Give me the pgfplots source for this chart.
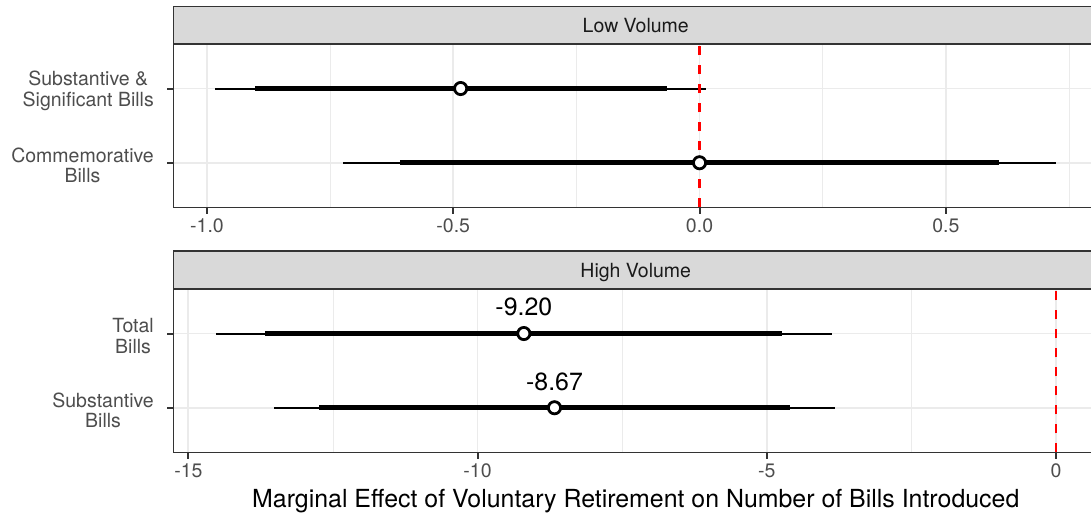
\documentclass[border=0pt]{standalone}
\usepackage{fontspec}
\setmainfont{TeX Gyre Heros}
\usepackage{pgfplots}
\usepackage{pgfplotstable}
\pgfplotsset{compat=1.18}

\definecolor{gridc}{HTML}{EBEBEB}
\definecolor{g20}{HTML}{333333}
\definecolor{g30}{HTML}{4D4D4D}
\definecolor{g10}{HTML}{1A1A1A}
\definecolor{stripc}{HTML}{D9D9D9}

\newcommand\axisfont{\fontsize{19.5}{20.5}\selectfont}
\newcommand\titlefont{\fontsize{24.9}{28}\selectfont}

% estimate with 95% (thin) and 90% (thick) intervals
\pgfplotstableread{
y est lo95 hi95 lo90 hi90
2 -0.485 -0.983 0.013 -0.903 -0.067
1 0.000 -0.724 0.724 -0.608 0.608
}\lowvol

\pgfplotstableread{
y est lo95 hi95 lo90 hi90 lab
2 -9.20 -14.53 -3.87 -13.67 -4.73 -9.20
1 -8.67 -13.52 -3.82 -12.74 -4.60 -8.67
}\highvol

\tikzset{strip/.style={fill=stripc, draw=g20, line width=1.1pt}}

\pgfplotsset{
  facet/.style={
    width=924.5pt, height=163.3pt, scale only axis, clip=false,
    ymin=0.4, ymax=2.6, ytick={1,2},
    tick align=outside, xtick pos=lower, ytick pos=left,
    major tick length=6.5pt, minor tick length=0pt,
    major tick style={line width=2pt, draw=g20},
    axis line style={draw=g20, line width=1.1pt},
    xmajorgrids, xminorgrids, ymajorgrids,
    major grid style={draw=gridc, line width=1.8pt},
    minor grid style={draw=gridc, line width=0.9pt},
    ticklabel style={font=\axisfont, text=g30},
    xticklabel style={anchor=base, inner sep=0pt, yshift=-19pt},
    yticklabel style={align=center, anchor=east, inner sep=0pt,
      xshift=-13pt, yshift=-2.5pt},
  },
  ci/.style={only marks, mark=none,
    error bars/.cd, x dir=both, x explicit, error mark=none,
    error bar style={draw=black, solid, line width=#1}},
  est/.style={only marks, mark=*, mark size=6.1pt,
    mark options={fill=white, draw=black, line width=2.8pt}},
  zero/.style={draw=red, line width=2.5pt, dash pattern=on 9.5pt off 9.5pt, mark=none},
}

\begin{document}
\begin{tikzpicture}
\useasboundingbox (0,0) rectangle (1091pt,514pt);

% Low Volume facet
\begin{axis}[facet, at={(173.5pt,306.7pt)}, anchor=south west,
  xmin=-1.068, xmax=0.809,
  xtick={-1,-0.5,0,0.5}, xticklabels={-1.0,-0.5,0.0,0.5},
  minor xtick={-0.75,-0.25,0.25,0.75},
  yticklabels={{Commemorative\\Bills},{Substantive \&\\Significant Bills}},
]
\addplot[ci=2pt] table[x=est, y=y,
  x error minus expr=\thisrow{est}-\thisrow{lo95},
  x error plus expr=\thisrow{hi95}-\thisrow{est}] {\lowvol};
\addplot[ci=5.3pt] table[x=est, y=y,
  x error minus expr=\thisrow{est}-\thisrow{lo90},
  x error plus expr=\thisrow{hi90}-\thisrow{est}] {\lowvol};
\addplot[est] table[x=est, y=y] {\lowvol};
\addplot[zero] coordinates {(0,0.4) (0,2.6)};
\draw[strip] (rel axis cs:0,1) rectangle ([yshift=37.6pt]rel axis cs:1,1);
\node[anchor=base, inner sep=0pt, font=\axisfont, text=g10]
  at ([yshift=11.8pt]rel axis cs:0.5,1) {Low Volume};
\end{axis}

% High Volume facet
\begin{axis}[facet, at={(173.5pt,61.7pt)}, anchor=south west,
  xmin=-15.257, xmax=0.727,
  xtick={-15,-10,-5,0}, xticklabels={-15,-10,-5,0},
  minor xtick={-12.5,-7.5,-2.5},
  yticklabels={{Substantive\\Bills},{Total\\Bills}},
  xlabel={Marginal Effect of Voluntary Retirement on Number of Bills Introduced},
  x label style={at={(rel axis cs:0.5,0)}, anchor=base, inner sep=0pt,
    yshift=-54.7pt, font=\titlefont, text=black},
]
\addplot[ci=2pt] table[x=est, y=y,
  x error minus expr=\thisrow{est}-\thisrow{lo95},
  x error plus expr=\thisrow{hi95}-\thisrow{est}] {\highvol};
\addplot[ci=5.3pt] table[x=est, y=y,
  x error minus expr=\thisrow{est}-\thisrow{lo90},
  x error plus expr=\thisrow{hi90}-\thisrow{est}] {\highvol};
\addplot[est, nodes near coords, point meta=explicit symbolic,
  every node near coord/.append style={anchor=base, inner sep=0pt,
    yshift=17.6pt, font=\titlefont, text=black}]
  table[x=est, y=y, meta=lab] {\highvol};
\addplot[zero] coordinates {(0,0.4) (0,2.6)};
\draw[strip] (rel axis cs:0,1) rectangle ([yshift=38pt]rel axis cs:1,1);
\node[anchor=base, inner sep=0pt, font=\axisfont, text=g10]
  at ([yshift=12pt]rel axis cs:0.5,1) {High Volume};
\end{axis}
\end{tikzpicture}
\end{document}
